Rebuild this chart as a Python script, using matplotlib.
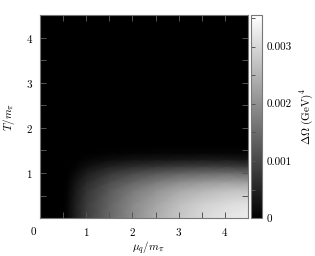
import numpy as np
import matplotlib
matplotlib.use('Agg')
import matplotlib.pyplot as plt
from matplotlib.ticker import MultipleLocator, FixedLocator

plt.rcParams['font.family'] = 'serif'
plt.rcParams['font.serif'] = ['cmr10', 'DejaVu Serif']
plt.rcParams['mathtext.fontset'] = 'cm'
plt.rcParams['axes.formatter.use_mathtext'] = True

# grid (mu_q/m_pi, T/m_pi), values in GeV^4 x 1e-3
mu = [0, 0.5, 0.6, 0.75, 1.0, 1.5, 2.0, 2.5, 3.0, 3.5, 4.0, 4.5]
temp = [0, 0.3, 0.6, 0.8, 1.0, 1.15, 1.3, 1.45, 1.6, 4.5]
d_omega = [
    [0, 0, 0.10, 0.40, 0.85, 1.45, 1.95, 2.40, 2.75, 3.00, 3.20, 3.30],
    [0, 0, 0.10, 0.40, 0.82, 1.40, 1.90, 2.30, 2.65, 2.90, 3.05, 3.15],
    [0, 0, 0.08, 0.33, 0.72, 1.25, 1.70, 2.05, 2.35, 2.55, 2.70, 2.75],
    [0, 0, 0.05, 0.25, 0.58, 1.05, 1.40, 1.70, 1.95, 2.10, 2.20, 2.20],
    [0, 0, 0.02, 0.12, 0.38, 0.75, 1.00, 1.20, 1.35, 1.45, 1.50, 1.45],
    [0, 0, 0.00, 0.05, 0.20, 0.45, 0.60, 0.72, 0.80, 0.85, 0.85, 0.80],
    [0, 0, 0.00, 0.01, 0.07, 0.18, 0.25, 0.30, 0.33, 0.35, 0.35, 0.30],
    [0, 0, 0.00, 0.00, 0.01, 0.04, 0.06, 0.07, 0.08, 0.08, 0.08, 0.07],
    [0] * 12,
    [0] * 12,
]
vmax = 3.55e-3

X, Y = np.meshgrid(mu, temp)
C = np.array(d_omega) * 1e-3

fig = plt.figure(figsize=(3.15, 2.56), dpi=100)
ax = fig.add_axes([0.127, 0.148, 0.66, 0.793])
cax = fig.add_axes([0.797, 0.148, 0.035, 0.793])

mesh = ax.pcolormesh(X, Y, C, cmap='gray', vmin=0, vmax=vmax, shading='gouraud')
ax.set_xlim(0, 4.5)
ax.set_ylim(0, 4.5)

tick_col = '#555555'
fs = 8
ax.xaxis.set_major_locator(FixedLocator([1, 2, 3, 4]))
ax.yaxis.set_major_locator(FixedLocator([1, 2, 3, 4]))
ax.xaxis.set_minor_locator(MultipleLocator(0.5))
ax.yaxis.set_minor_locator(MultipleLocator(0.5))
ax.tick_params(which='both', direction='in', top=True, right=True,
               length=4, width=0.7, color=tick_col, labelsize=fs)
ax.tick_params(axis='x', pad=6)
ax.tick_params(axis='y', pad=5)
for s in ax.spines.values():
    s.set_color('#777777')
    s.set_linewidth(0.8)
ax.text(-0.034, -0.072, '0', transform=ax.transAxes, ha='center', va='center', fontsize=fs)

ax.set_xlabel(r'$\mu_q/m_\pi$', fontsize=fs)
ax.xaxis.set_label_coords(0.52, -0.104)
ax.set_ylabel(r'$T/m_\pi$', fontsize=fs)
ax.yaxis.set_label_coords(-0.112, 0.5)

cb = fig.colorbar(mesh, cax=cax)
cb.set_ticks([0, 0.001, 0.002, 0.003])
cb.set_ticklabels(['0', '0.001', '0.002', '0.003'])
cb.ax.yaxis.set_minor_locator(MultipleLocator(0.0005))
cb.ax.tick_params(which='both', direction='in', left=True, right=False,
                  length=3, width=0.7, color=tick_col, labelsize=fs, pad=3.5)
cb.outline.set_edgecolor('#777777')
cb.outline.set_linewidth(0.8)
cb.set_label(r'$\Delta\Omega\ (\mathrm{GeV})^4$', fontsize=fs)
cb.ax.yaxis.set_label_coords(4.3, 0.5)

fig.savefig('out.png', dpi=100, facecolor='white')
